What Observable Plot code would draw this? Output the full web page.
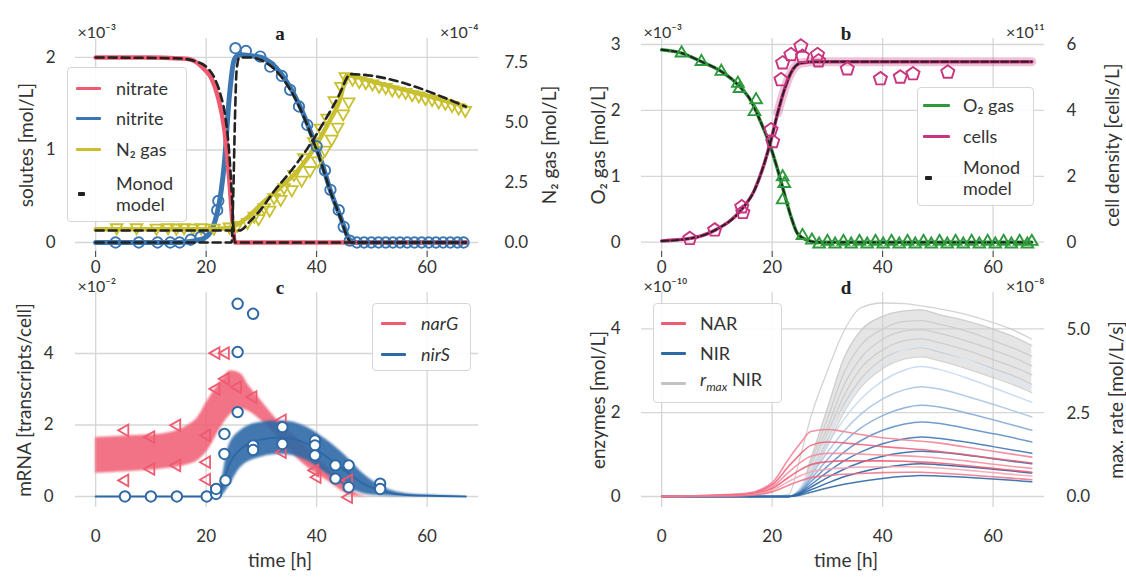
<!DOCTYPE html>
<html><head><meta charset="utf-8">
<script src="https://cdn.jsdelivr.net/npm/d3@7"></script>
<script src="https://cdn.jsdelivr.net/npm/@observablehq/plot@0.6"></script>
<style>
html,body{margin:0;padding:0;background:#fff;}
#fig{position:relative;width:1126px;height:578px;overflow:hidden;font-family:Lato,"Open Sans",sans-serif;color:#333;}
.panel{position:absolute;}
.legend{position:absolute;background:rgba(255,255,255,0.9);border:1px solid #d6d6d6;border-radius:4px;box-sizing:border-box;font-size:18px;color:#333;}
.sw{position:absolute;height:3px;border-radius:1px;}
.lt{position:absolute;white-space:nowrap;line-height:21px;transform:translateY(-50%);}
</style></head>
<body><div id="fig"></div>
<script>
// ======================= DATA =======================
// Panel a: solutes (x1e-3 mol/L) and N2 gas (x1e-4 mol/L, right axis)
const nitrateT = [0, 10, 15, 17, 19.7, 21, 22.1, 23.3, 24.2, 24.8, 25.2, 67];
const nitrateV = [2.0, 2.0, 1.99, 1.98, 1.87, 1.77, 1.58, 1.22, 0.67, 0.2, 0, 0];
const nitriteT = [0, 15, 18, 20, 22, 23.3, 24.2, 25.1, 26, 28, 30, 33.5, 37, 39.5, 41, 42.5, 44.3, 46, 47, 67];
const nitriteV = [0, 0, 0.02, 0.06, 0.32, 0.86, 1.58, 1.98, 2.03, 2.02, 2.0, 1.83, 1.47, 1.1, 0.85, 0.56, 0.28, 0.03, 0, 0];
const n2T = [0, 20, 24, 26, 28, 30, 33.5, 37, 39.5, 42, 44.3, 45.5, 50, 55, 60, 64, 67];
const n2V = [0.55, 0.55, 0.6, 0.8, 1.15, 1.6, 2.3, 3.1, 3.9, 4.9, 6.0, 6.95, 6.7, 6.4, 6.1, 5.85, 5.65];
const monodNitrateT = [0, 15, 18, 20, 21.5, 22.6, 23.5, 24.2, 24.7, 25, 25.2, 67];
const monodNitrateV = [2.0, 1.99, 1.96, 1.9, 1.78, 1.6, 1.35, 0.95, 0.45, 0.1, 0, 0];
const monodNitriteT = [0, 24.6, 24.9, 25.2, 25.5, 26, 28, 30, 33.5, 37, 39.5, 41, 42.5, 44.3, 45.8, 46.3, 67];
const monodNitriteV = [0, 0, 0.5, 1.3, 1.85, 2.0, 2.0, 1.97, 1.8, 1.45, 1.08, 0.83, 0.55, 0.27, 0.03, 0, 0];
const monodN2T = [0, 26, 28, 30, 32.2, 35.3, 38.3, 41.3, 44.3, 45.5, 46, 67];
const monodN2V = [0.5, 0.5, 0.9, 1.4, 2.1, 2.96, 3.9, 5.0, 6.25, 6.85, 7.0, 5.65];
const nitriteObs = [[3.6,0],[7.8,0],[11.2,0],[13.5,0],[15.2,0],[17.2,0.03],[19,0.06],[22,0.35],[22.2,0.45],[25.3,2.1],[27.2,2.07],[29.8,2.01],[31.6,1.9],[33.7,1.8],[35.2,1.65],[36.8,1.47],[38.3,1.27],[40,1.04],[41.5,0.78],[42.5,0.57],[44,0.35],[44.9,0.17],[46,0.02],[47.3,0],[48.6,0],[49.9,0],[51.2,0],[52.5,0],[53.8,0],[55.1,0],[56.4,0],[57.7,0],[59,0],[60.3,0],[61.6,0],[62.9,0],[64.2,0],[65.5,0],[66.6,0]];
const n2Obs = [[3.8,0.62],[7.4,0.62],[11,0.6],[13.1,0.62],[14.6,0.6],[16,0.62],[17.6,0.6],[19.1,0.62],[21.4,0.6],[24.2,0.65],[25.6,0.72],
  [27.5,0.84],[28.7,1.1],[30.5,1.46],[32.3,1.87],[34.1,2.29],[35.9,2.84],[37.7,3.53],[39.5,4.2],[40.7,4.76],[41.9,5.18],[43.2,5.9],[44.4,6.5],
  [29.5,1.0],[31.5,1.35],[33.5,1.8],[35.5,2.2],[37.3,2.6],[38.8,3.0],[40.2,3.4],[41.5,3.85],[42.7,4.3],[43.8,4.8],[44.8,5.35],[45.8,5.85],
  [45.2,6.9],[46.5,6.8],[47.7,6.7],[48.9,6.65],[50.1,6.6],[51.3,6.5],[52.5,6.45],[53.7,6.35],[54.9,6.3],[56.1,6.25],[57.3,6.15],[58.5,6.1],[59.7,6.0],[60.9,5.95],[62.1,5.85],[63.3,5.8],[64.5,5.7],[65.7,5.6],[66.9,5.5]];

// Panel b: O2 gas (x1e-3 mol/L) and cells (x1e11 cells/L, right axis)
const o2T = [0, 3.6, 7.2, 10.8, 13.8, 16.2, 18, 19.5, 21, 22.2, 23.4, 24.6, 26.4, 28, 67];
const o2V = [2.92, 2.87, 2.74, 2.59, 2.39, 2.14, 1.81, 1.5, 1.1, 0.74, 0.39, 0.13, 0.03, 0, 0];
const cellsT = [0, 5, 9.6, 14.4, 16.8, 18.6, 19.8, 21, 22.2, 23.4, 25.2, 28, 67];
const cellsV = [0.04, 0.11, 0.36, 0.98, 1.58, 2.4, 3.1, 3.92, 4.62, 5.14, 5.44, 5.48, 5.48];
const o2Obs = [[3.6,2.87],[7.2,2.74],[10.8,2.59],[13.8,2.41],[14.1,2.33],[17.1,2.16],[16.8,1.98],[21.9,0.99],[22.2,0.89],[21.9,0.64],[25.5,0.1],[27.2,0.03],
  [28.5,-0.03],[30,0.01],[31.4,-0.03],[32.9,0.01],[34.3,-0.03],[35.8,0.01],[37.2,-0.03],[38.7,0.01],[40.1,-0.03],[41.6,0.01],[43,-0.03],[44.5,0.01],[45.9,-0.03],[47.4,0.01],[48.8,-0.03],[50.3,0.01],[51.7,-0.03],[53.2,0.01],[54.6,-0.03],[56.1,0.01],[57.5,-0.03],[59,0.01],[60.4,-0.03],[61.9,0.01],[63.3,-0.03],[64.8,0.01],[66.2,-0.03],[67,0.01]];
const cellsObs = [[5.1,0.11],[9.6,0.37],[14.5,1.07],[14.7,0.9],[19.8,3.41],[20.1,3.05],[21.6,4.93],[21.9,5.44],[23.4,5.69],[25.2,5.95],[25.5,5.64],[28.2,5.69],[28.4,5.5],[33.6,5.26],[39.6,4.96],[43.2,5.01],[45.5,5.11],[51.8,5.16]];

// Panel c: mRNA (x1e-2 transcripts/cell)
const narGT  = [0, 6, 12, 18, 20.3, 22.7, 24.5, 26.3, 27.5, 29.9, 32.9, 38.3, 41.9, 45.5, 47.3, 50];
const narGLo = [0.65, 0.7, 0.77, 0.96, 1.29, 1.94, 2.31, 2.45, 2.4, 2.13, 1.66, 0.82, 0.45, 0.08, 0, 0];
const narGHi = [1.65, 1.7, 1.75, 2.13, 2.69, 3.24, 3.52, 3.43, 3.15, 2.69, 2.13, 1.38, 0.82, 0.36, 0.08, 0];
const nirST  = [0, 21, 22, 23, 24, 26.3, 29.9, 33.5, 38.3, 41.9, 45.5, 48.5, 52.1, 56.3, 62.3, 67];
const nirSLo = [0, 0, 0, 0.05, 0.26, 0.82, 1.1, 1.18, 1.0, 0.63, 0.26, 0.08, 0.02, 0, 0, 0];
const nirSHi = [0, 0, 0.1, 0.6, 1.38, 1.85, 2.08, 2.12, 1.94, 1.57, 1.1, 0.63, 0.26, 0.08, 0.03, 0];
const narGObs = [[5.3,1.85],[5.3,0.45],[10,1.66],[10,0.77],[14.7,1.99],[14.7,0.87],[20.1,1.71],[20.1,0.96],[20.1,0.47],[21.8,4.01],[23.5,4.01],[21.8,3.01],[23.5,3.29],[25.7,3.06],[28.5,2.78],[33.8,2.13],[33.8,1.24],[39.7,0.73],[40.1,0.54],[45.8,0.45],[45.8,-0.02]];
const nirSObs = [[5.3,0],[10,0],[14.7,0],[20.1,0],[21.8,0.07],[21.8,0.21],[23.5,0.45],[23.3,1.19],[23.3,1.75],[25.7,2.36],[25.7,4.04],[25.7,5.39],[28.5,5.11],[28.5,1.43],[28.5,1.3],[33.8,1.94],[33.8,1.47],[39.7,1.57],[39.7,1.43],[39.7,1.15],[43.4,0.87],[43.4,0.5],[45.8,0.87],[45.8,0.26],[51.5,0.36],[51.5,0.21]];

// Panel d: enzymes (x1e-10 mol/L) and r_max NIR (x1e-8 mol/L/s, right axis)
const tD = [0, 15, 20, 23, 25, 27, 30, 33, 36, 40, 44, 47, 50, 55, 60, 64, 67];
const rmaxRuns = [
  [0,0,0,0.06,1.13,2.39,3.77,4.97,5.66,5.81,5.79,5.72,5.64,5.47,5.22,4.97,4.72],
  [0,0,0,0,0.13,1.13,2.64,4.15,4.97,5.41,5.57,5.6,5.47,5.28,5.03,4.78,4.53],
  [0,0,0,0,0.1,1.01,2.33,3.71,4.53,5.03,5.26,5.28,5.18,4.97,4.68,4.43,4.21],
  [0,0,0,0,0.08,0.88,2.08,3.33,4.15,4.72,4.97,5.01,4.91,4.68,4.4,4.15,3.92],
  [0,0,0,0,0.06,0.75,1.89,3.02,3.84,4.4,4.68,4.73,4.63,4.4,4.11,3.87,3.65],
  [0,0,0,0,0.05,0.63,1.7,2.77,3.52,4.13,4.4,4.47,4.35,4.13,3.84,3.6,3.37],
  [0,0,0,0,0.04,0.57,1.51,2.52,3.27,3.84,4.13,4.19,4.09,3.85,3.57,3.33,3.12]
];
const nirRuns = [
  [0,0,0,0,0.2,0.68,1.42,2.12,2.68,3.2,3.5,3.58,3.5,3.28,3.0,2.78,2.6],
  [0,0,0,0,0.17,0.58,1.24,1.84,2.32,2.76,3.02,3.1,3.04,2.84,2.6,2.4,2.25],
  [0,0,0,0,0.15,0.5,1.05,1.56,1.96,2.33,2.55,2.62,2.57,2.4,2.2,2.03,1.9],
  [0,0,0,0,0.13,0.42,0.88,1.3,1.63,1.93,2.12,2.18,2.14,2.0,1.83,1.69,1.58],
  [0,0,0,0,0.11,0.35,0.72,1.06,1.33,1.58,1.73,1.78,1.75,1.63,1.5,1.39,1.3],
  [0,0,0,0,0.09,0.28,0.58,0.85,1.06,1.26,1.38,1.42,1.39,1.3,1.19,1.1,1.03],
  [0,0,0,0,0.07,0.22,0.45,0.65,0.81,0.96,1.05,1.08,1.06,0.99,0.9,0.83,0.78],
  [0,0,0,0,0.05,0.16,0.32,0.47,0.58,0.69,0.76,0.78,0.76,0.71,0.65,0.6,0.56],
  [0,0,0,0,0.03,0.1,0.2,0.29,0.36,0.43,0.48,0.5,0.49,0.46,0.42,0.38,0.35]
];
const narRuns = [
  [0,0.07,0.33,0.9,1.25,1.55,1.6,1.55,1.48,1.4,1.35,1.32,1.28,1.18,1.08,1.0,0.94],
  [0,0.06,0.28,0.72,1.0,1.22,1.3,1.28,1.24,1.19,1.15,1.12,1.08,1.0,0.91,0.85,0.8],
  [0,0.05,0.23,0.58,0.8,0.96,1.03,1.03,1.01,0.99,0.97,0.95,0.92,0.85,0.77,0.71,0.67],
  [0,0.04,0.19,0.46,0.63,0.76,0.83,0.85,0.85,0.85,0.84,0.82,0.8,0.74,0.67,0.62,0.58],
  [0,0.03,0.15,0.36,0.49,0.59,0.65,0.68,0.7,0.71,0.71,0.7,0.68,0.63,0.57,0.52,0.49],
  [0,0.02,0.11,0.27,0.37,0.45,0.5,0.53,0.55,0.57,0.58,0.58,0.56,0.52,0.47,0.43,0.4]
];

// tick labels
const xTicks = [0, 20, 40, 60];
const aLeftTicks = [0, 1, 2], aRightTicks = [0, 2.5, 5, 7.5];
const bLeftTicks = [0, 1, 2, 3], bRightTicks = [0, 2, 4, 6];
const cLeftTicks = [0, 2, 4];
const dLeftTicks = [0, 2, 4], dRightTicks = [0, 2.5, 5];

// ======================= STYLE / HELPERS =======================
const C = {red: "#ef5a70", blue: "#3b76b1", yellow: "#c9c030", green: "#2f9a3c", magenta: "#c8357f",
  navy: "#2e69a6", gray: "#c2c2c2", grid: "#d6d6d6", dash: "#222"};
const FONT = "Lato, 'Open Sans', sans-serif";
const SERIF = "'Liberation Serif', 'DejaVu Serif', serif";
const LBL = 19;
const xDomain = [-3.65, 69.3];
const fA = 0.26;   // panel a: right units (1e-4) -> left units (1e-3)
const fB = 0.5;    // panel b: cells (1e11) -> O2 units (1e-3)
const fD = 0.795;  // panel d: r_max (1e-8) -> enzyme units (1e-10)

const pts = (T, V, k = 1) => T.map((t, i) => ({t, v: V[i] * k}));
const obs = (P, k = 1) => P.map(([t, v]) => ({t, v: v * k}));
function polySym(n, rot, s) {
  return {draw(ctx, size) {
    const r = Math.sqrt(size / Math.PI) * s;
    for (let k = 0; k < n; k++) {
      const a = (rot + k * 360 / n) * Math.PI / 180;
      const x = r * Math.cos(a), y = r * Math.sin(a);
      if (k) ctx.lineTo(x, y); else ctx.moveTo(x, y);
    }
    ctx.closePath();
  }};
}
const triDown = polySym(3, 90, 1.35), triUp = polySym(3, -90, 1.35), triLeft = polySym(3, 180, 1.35), pent = polySym(5, -90, 1.15);
const gridS = {stroke: C.grid, strokeOpacity: 1, strokeWidth: 1.3};
const fig = document.getElementById("fig");

function common(p) {
  return [
    Plot.gridY(p.gridY, gridS),
    Plot.gridX(xTicks, gridS),
    Plot.axisY(p.gridY, {anchor: "left", tickSize: 0, tickPadding: p.padL, label: null, tickFormat: d => String(d)}),
    Plot.text([p.title], {frameAnchor: "top", dy: -12, dx: 3, fontWeight: "bold", fontFamily: SERIF, fontSize: 19, fill: "#222"}),
    Plot.text([p.expL], {frameAnchor: "top-left", textAnchor: "start", dy: -12, dx: 2, fontSize: 16}),
    Plot.text([p.labelL], {frameAnchor: "left", textAnchor: "middle", rotate: -90, dx: p.dxL, fontSize: LBL})
  ];
}
function addPanel(left, top, opts, marks) {
  const svg = Plot.plot({
    width: 563, height: opts.height,
    marginLeft: opts.mL, marginRight: opts.mR, marginTop: opts.mT, marginBottom: opts.mB,
    x: {domain: xDomain, label: null},
    y: {domain: opts.yDomain, label: null},
    style: {fontFamily: FONT, fontSize: "17px", color: "#333", background: "transparent", overflow: "visible"},
    marks
  });
  const d = document.createElement("div");
  d.className = "panel"; d.style.left = left + "px"; d.style.top = top + "px";
  d.appendChild(svg); fig.appendChild(d);
}
function addLegend(box, sw, tx, rows) {
  const d = document.createElement("div"); d.className = "legend";
  Object.assign(d.style, {left: box[0] + "px", top: box[1] + "px", width: box[2] + "px", height: box[3] + "px"});
  rows.forEach(r => {
    if (r.color) {
      const s = document.createElement("div"); s.className = "sw";
      Object.assign(s.style, {left: (sw[0] - box[0]) + "px", width: (sw[1] - sw[0]) + "px", top: (r.y - box[1] - 1.5) + "px", background: r.color});
      d.appendChild(s);
    }
    if (r.dashY) {
      const s = document.createElement("div"); s.className = "sw";
      Object.assign(s.style, {left: (sw[0] - box[0] + 2) + "px", width: "7px", height: "4px", top: (r.dashY - box[1] - 2) + "px", background: "#222"});
      d.appendChild(s);
    }
    const t = document.createElement("div"); t.className = "lt"; t.innerHTML = r.label;
    Object.assign(t.style, {left: (tx - box[0]) + "px", top: (r.y - box[1]) + "px"});
    d.appendChild(t);
  });
  fig.appendChild(d);
}
const lineOpt = (stroke, w, extra = {}) => ({x: "t", y: "v", stroke, strokeWidth: w, curve: "monotone-x", ...extra});
const dashOpt = (w = 2.6, da = "8,5") => ({x: "t", y: "v", stroke: C.dash, strokeWidth: w, strokeDasharray: da, curve: "monotone-x"});
const rightLabel = (s, dx) => Plot.text([s], {frameAnchor: "right", textAnchor: "middle", rotate: -90, dx, fontSize: LBL});

// ======================= PANEL a =======================
addPanel(0, 0, {height: 270, mL: 75, mR: 85, mT: 38, mB: 19, yDomain: [-0.097, 2.205]}, [
  ...common({gridY: aLeftTicks, padL: 20, title: "a", expL: "×10⁻³", labelL: "solutes [mol/L]", dxL: -49}),
  Plot.axisY(aRightTicks.map(r => r * fA), {anchor: "right", tickSize: 0, tickPadding: 26, label: null, tickFormat: d => (d / fA).toFixed(1)}),
  Plot.text(["×10⁻⁴"], {frameAnchor: "top-right", textAnchor: "end", dy: -12, fontSize: 16}),
  rightLabel("N₂ gas [mol/L]", 71),
  Plot.line(pts(nitriteT, nitriteV), lineOpt(C.blue, 5)),
  Plot.line(pts(nitrateT, nitrateV), lineOpt(C.red, 4.5)),
  Plot.line(pts(n2T, n2V, fA), lineOpt(C.yellow, 4.5)),
  Plot.dot(obs(n2Obs, fA), {x: "t", y: "v", r: 5, symbol: triDown, stroke: C.yellow, strokeWidth: 1.8, fill: "none"}),
  Plot.dot(obs(nitriteObs), {x: "t", y: "v", r: 5.2, stroke: C.blue, strokeWidth: 1.9, fill: "none"}),
  Plot.line(pts(monodNitrateT, monodNitrateV), dashOpt()),
  Plot.line(pts(monodNitriteT, monodNitriteV), dashOpt()),
  Plot.line(pts(monodN2T, monodN2V, fA), dashOpt())
]);
addLegend([67, 67, 120, 155], [75, 100], 115, [
  {y: 87, color: C.red, label: "nitrate"},
  {y: 117, color: C.blue, label: "nitrite"},
  {y: 148, color: C.yellow, label: "N₂ gas"},
  {y: 192.5, dashY: 193, label: "Monod<br>model"}
]);

// ======================= PANEL b =======================
addPanel(563, 0, {height: 270, mL: 78, mR: 82, mT: 38, mB: 19, yDomain: [-0.141, 3.091]}, [
  ...common({gridY: bLeftTicks, padL: 21, title: "b", expL: "×10⁻³", labelL: "O₂ gas [mol/L]", dxL: -43}),
  Plot.axisY(bRightTicks.map(r => r * fB), {anchor: "right", tickSize: 0, tickPadding: 22, label: null, tickFormat: d => String(Math.round(d / fB))}),
  Plot.text(["×10¹¹"], {frameAnchor: "top-right", textAnchor: "end", dy: -12, fontSize: 16}),
  rightLabel("cell density [cells/L]", 68),
  Plot.line(pts(cellsT, cellsV, fB).filter(d => d.t >= 20), lineOpt(C.magenta, 9, {strokeOpacity: 0.3})),
  Plot.line(pts(o2T, o2V), lineOpt(C.green, 3.5)),
  Plot.line(pts(cellsT, cellsV, fB), lineOpt(C.magenta, 3.5)),
  Plot.line(pts(o2T, o2V), dashOpt(2, "7,3")),
  Plot.line(pts(cellsT, cellsV, fB), dashOpt(2, "7,3")),
  Plot.dot(obs(o2Obs), {x: "t", y: "v", r: 5, symbol: triUp, stroke: C.green, strokeWidth: 1.9, fill: "none"}),
  Plot.dot(obs(cellsObs, fB), {x: "t", y: "v", r: 6, symbol: pent, stroke: C.magenta, strokeWidth: 1.9, fill: "none"})
]);
addLegend([917, 87, 117, 119], [922, 949], 962, [
  {y: 104, color: C.green, label: "O₂ gas"},
  {y: 135, color: C.magenta, label: "cells"},
  {y: 177, dashY: 177, label: "Monod<br>model"}
]);

// ======================= PANEL c =======================
addPanel(0, 270, {height: 308, mL: 75, mR: 85, mT: 22, mB: 71, yDomain: [-0.308, 5.706]}, [
  ...common({gridY: cLeftTicks, padL: 22, title: "c", expL: "×10⁻²", labelL: "mRNA [transcripts/cell]", dxL: -51}),
  Plot.axisX(xTicks, {tickSize: 0, tickPadding: 22, label: null}),
  Plot.text(["time [h]"], {frameAnchor: "bottom", dy: 59, dx: 3, fontSize: LBL}),
  Plot.areaY(narGT.map((t, i) => ({t, lo: narGLo[i], hi: narGHi[i]})), {x: "t", y1: "lo", y2: "hi", fill: C.red, fillOpacity: 0.85, curve: "monotone-x", imageFilter: "blur(1.2px)"}),
  Plot.areaY(nirST.map((t, i) => ({t, lo: nirSLo[i], hi: nirSHi[i]})), {x: "t", y1: "lo", y2: "hi", fill: C.navy, fillOpacity: 0.9, curve: "monotone-x", imageFilter: "blur(1.2px)"}),
  Plot.line(nirST.map((t, i) => ({t, v: (nirSLo[i] + nirSHi[i]) / 2})), lineOpt(C.navy, 2)),
  Plot.dot(obs(narGObs), {x: "t", y: "v", r: 5, symbol: triLeft, stroke: C.red, strokeWidth: 1.8, fill: "none"}),
  Plot.dot(obs(nirSObs), {x: "t", y: "v", r: 5.2, stroke: C.navy, strokeWidth: 2, fill: "white"})
]);
addLegend([372, 303, 99, 68], [380, 405], 420, [
  {y: 322, color: C.red, label: "<i>narG</i>"},
  {y: 353, color: C.navy, label: "<i>nirS</i>"}
]);

// ======================= PANEL d =======================
const runMarks = (runs, colors, k, w, op) => runs.map((r, i) => Plot.line(pts(tD, r, k), lineOpt(colors[i], w, {strokeOpacity: op})));
addPanel(563, 270, {height: 308, mL: 78, mR: 82, mT: 22, mB: 71, yDomain: [-0.263, 4.869]}, [
  ...common({gridY: dLeftTicks, padL: 21, title: "d", expL: "×10⁻¹⁰", labelL: "enzymes [mol/L]", dxL: -43}),
  Plot.axisX(xTicks, {tickSize: 0, tickPadding: 22, label: null}),
  Plot.text(["time [h]"], {frameAnchor: "bottom", dy: 59, dx: 3, fontSize: LBL}),
  Plot.axisY(dRightTicks.map(r => r * fD), {anchor: "right", tickSize: 0, tickPadding: 22, label: null, tickFormat: d => (d / fD).toFixed(1)}),
  Plot.text(["×10⁻⁸"], {frameAnchor: "top-right", textAnchor: "end", dy: -12, fontSize: 16}),
  rightLabel("max. rate [mol/L/s]", 72),
  Plot.areaY(tD.map((t, i) => ({t, lo: rmaxRuns[6][i] * fD, hi: rmaxRuns[1][i] * fD})), {x: "t", y1: "lo", y2: "hi", fill: "#cfcfcf", fillOpacity: 0.55, curve: "monotone-x"}),
  ...runMarks(rmaxRuns, Array(7).fill("#c8c8c8"), fD, 1.3, 0.8),
  ...runMarks(nirRuns, ["#dce8f4", "#c6d9ee", "#a9c6e5", "#86add7", "#5f91c6", "#3f78b5", "#2f69a7", "#2a62a0", "#2f6aa6"], 1, 1.5, 0.9),
  ...runMarks(narRuns, ["#f27d90", "#ef5d75", "#f48a9b", "#ee5670", "#f6a3b2", "#f07085"], 1, 1.6, 0.85)
]);
addLegend([653, 303, 129, 100], [660, 685], 699, [
  {y: 322, color: C.red, label: "NAR"},
  {y: 352, color: C.navy, label: "NIR"},
  {y: 382, color: C.gray, label: "<i>r</i><sub style='font-size:12px'><i>max</i></sub> NIR"}
]);
</script>
</body></html>
